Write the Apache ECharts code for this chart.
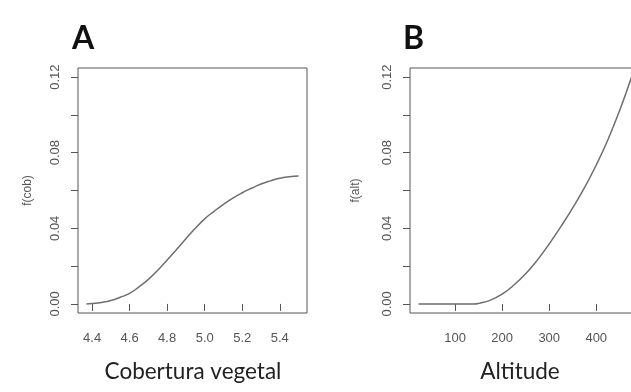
<!DOCTYPE html>
<html>
<head>
<meta charset="utf-8">
<script src="https://cdn.jsdelivr.net/npm/echarts@6/dist/echarts.min.js"></script>
<style>
  html, body { margin: 0; padding: 0; background: #fff; }
  #main { width: 631px; height: 392px; }
</style>
</head>
<body>
<div id="main"></div>
<script>
// painel A - cobertura vegetal
const cobX = [4.37, 4.40, 4.45, 4.50, 4.55, 4.60, 4.65, 4.70, 4.75, 4.80, 4.85, 4.90, 4.95,
  5.00, 5.05, 5.10, 5.15, 5.20, 5.25, 5.30, 5.35, 5.40, 5.45, 5.50]
const cobY = [0.0000, 0.0002, 0.0008, 0.0018, 0.0035, 0.0056, 0.0090, 0.0130, 0.0178, 0.0232,
  0.0288, 0.0345, 0.0400, 0.0450, 0.0490, 0.0527, 0.0560, 0.0588, 0.0612, 0.0634, 0.0651,
  0.0665, 0.0673, 0.0677]
const cobTicks = [4.4, 4.6, 4.8, 5.0, 5.2, 5.4]

// painel B - altitude
const altX = [22, 50, 75, 100, 125, 140, 150, 175, 200, 225, 250, 275, 300, 325, 350, 375,
  400, 425, 450, 475]
const altY = [0, 0, 0, 0, 0, 0, 0.0003, 0.0020, 0.0052, 0.0100, 0.0160, 0.0233, 0.0318,
  0.0410, 0.0508, 0.0615, 0.0735, 0.0870, 0.1025, 0.1200]
const altTicks = [100, 200, 300, 400]

const yTicks = [0, 0.02, 0.04, 0.06, 0.08, 0.10, 0.12]
const yLabels = [0, 0.04, 0.08, 0.12]

const lineColor = '#555'
const textColor = '#555'

function makeX(idx, min, max, ticks, digits) {
  return {
    type: 'value', gridIndex: idx, min: min, max: max,
    axisLine: { show: false },
    splitLine: { show: false },
    axisTick: { show: true, length: 7, customValues: ticks, lineStyle: { color: lineColor } },
    axisLabel: {
      customValues: ticks, margin: 19, color: textColor, fontSize: 13,
      fontFamily: 'Liberation Sans',
      formatter: (v) => v.toFixed(digits)
    }
  }
}

function makeY(idx, name, gap) {
  return {
    type: 'value', gridIndex: idx, min: -0.0048, max: 0.1248,
    name: name, nameLocation: 'middle', nameGap: gap, nameRotate: 90,
    nameTextStyle: { color: textColor, fontSize: 12, fontFamily: 'Liberation Sans' },
    axisLine: { show: false },
    splitLine: { show: false },
    axisTick: { show: true, length: 7, customValues: yTicks, lineStyle: { color: lineColor } },
    axisLabel: {
      customValues: yLabels, rotate: 90, margin: 16, color: textColor, fontSize: 13,
      fontFamily: 'Liberation Sans',
      formatter: (v) => v.toFixed(2)
    }
  }
}

const myChart = echarts.init(document.getElementById('main'))
myChart.setOption({
  animation: false,
  backgroundColor: '#fff',
  grid: [
    { left: 78, width: 229, top: 68, bottom: 79, outerBoundsMode: 'none', show: true, borderColor: lineColor, borderWidth: 1 },
    { left: 410, width: 230, top: 68, bottom: 79, outerBoundsMode: 'none', show: true, borderColor: lineColor, borderWidth: 1 }
  ],
  xAxis: [
    makeX(0, 4.325, 5.545, cobTicks, 1),
    makeX(1, 4, 493, altTicks, 0)
  ],
  yAxis: [
    makeY(0, 'f(cob)', 44),
    makeY(1, 'f(alt)', 48)
  ],
  series: [
    {
      type: 'line', xAxisIndex: 0, yAxisIndex: 0, smooth: true, showSymbol: false,
      lineStyle: { color: '#6e6e6e', width: 1.5 },
      data: cobX.map((x, i) => [x, cobY[i]])
    },
    {
      type: 'line', xAxisIndex: 1, yAxisIndex: 1, smooth: true, showSymbol: false,
      lineStyle: { color: '#6e6e6e', width: 1.5 },
      data: altX.map((x, i) => [x, altY[i]])
    }
  ],
  graphic: [
    { type: 'text', left: 72, top: 23, style: { text: 'A', font: 'bold 32px Lato', fill: '#111' } },
    { type: 'text', left: 403, top: 23, style: { text: 'B', font: 'bold 32px Lato', fill: '#111' } },
    { type: 'text', x: 193, y: 372, style: { text: 'Cobertura vegetal', font: '22.5px Lato', fill: '#222', align: 'center', verticalAlign: 'middle' } },
    { type: 'text', x: 520, y: 372, style: { text: 'Altitude', font: '22.5px Lato', fill: '#222', align: 'center', verticalAlign: 'middle' } }
  ]
})
</script>
</body>
</html>
